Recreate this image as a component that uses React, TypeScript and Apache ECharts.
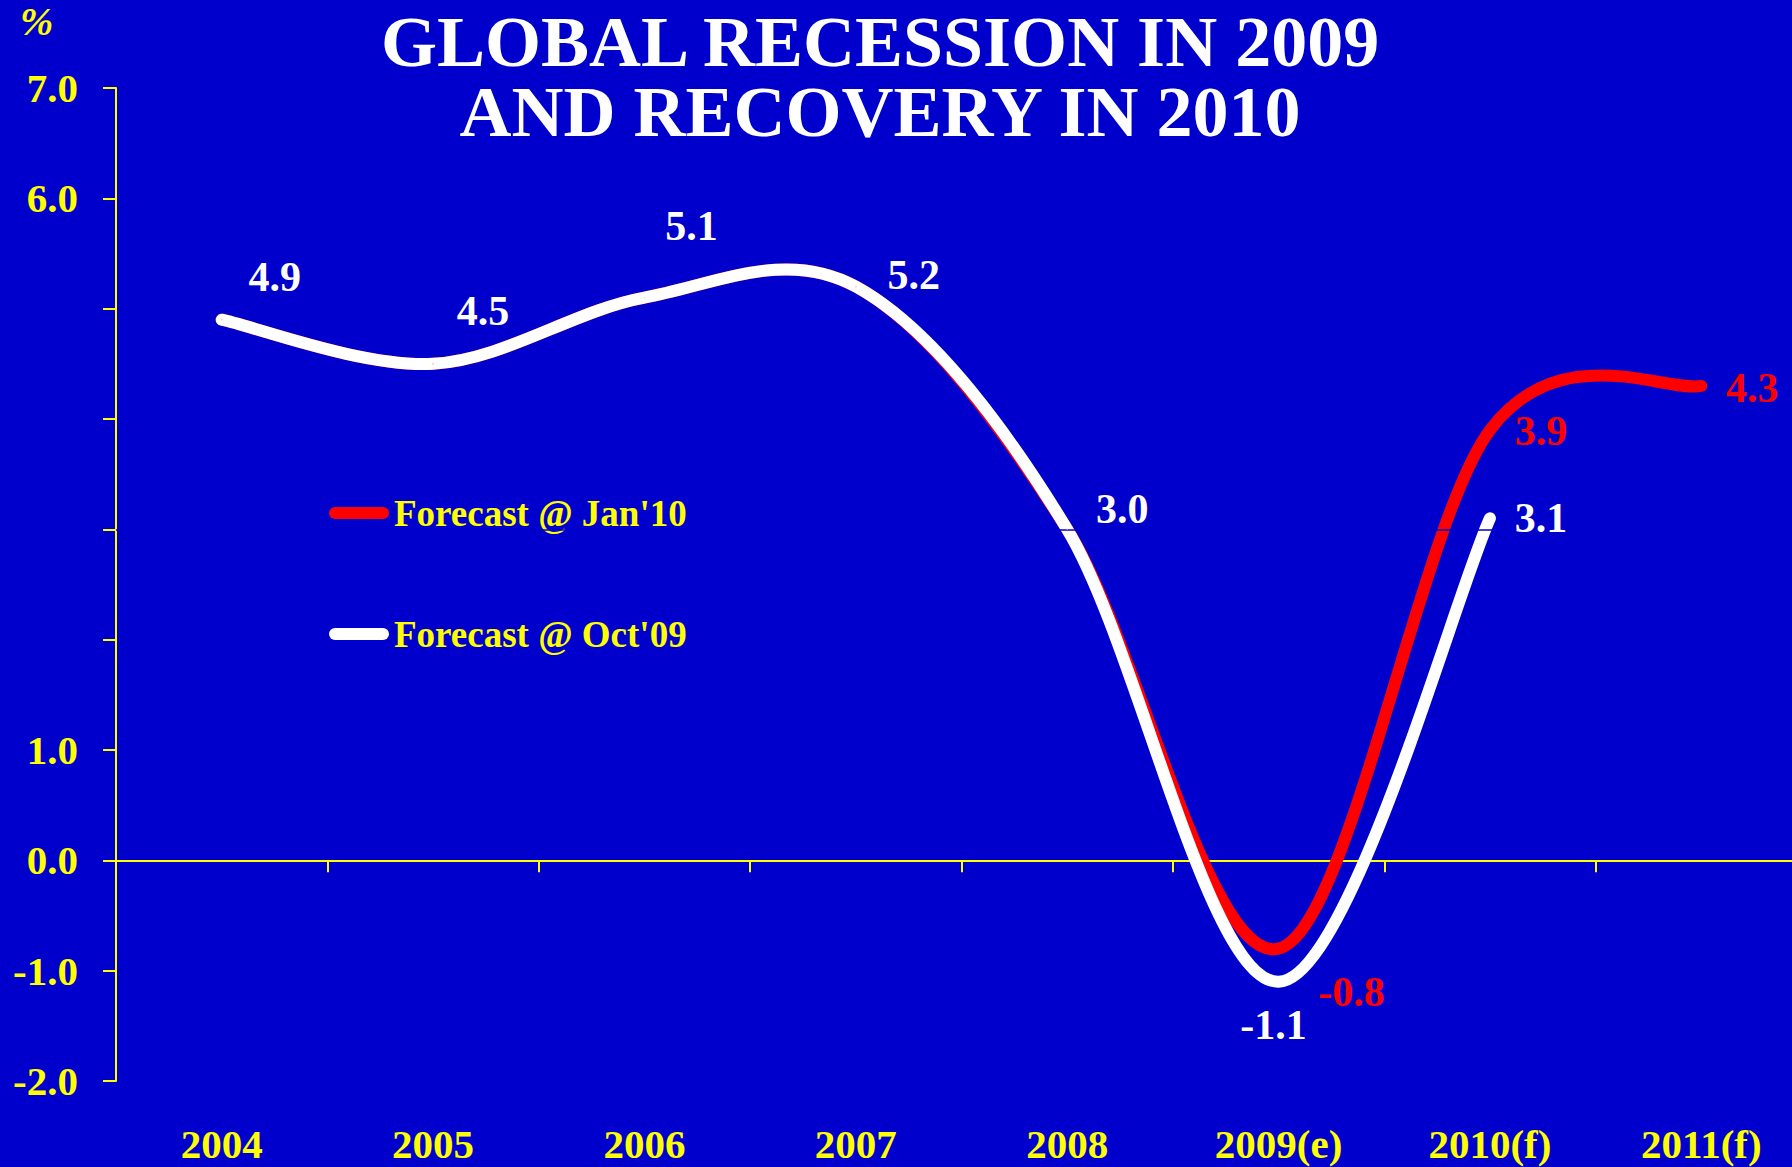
import React, { useEffect, useRef } from 'react';
import * as echarts from 'echarts';

// ---- data ----
const categories = ['2004', '2005', '2006', '2007', '2008', '2009(e)', '2010(f)', '2011(f)'];
const forecastJan10 = [4.9, 4.5, 5.1, 5.2, 3.0, -0.8, 3.9, 4.3];
const forecastOct09 = [4.9, 4.5, 5.1, 5.2, 3.0, -1.1, 3.1];
const labelledYTicks = [-2, -1, 0, 1, 6, 7];
const titleLines = ['GLOBAL RECESSION IN 2009', 'AND RECOVERY IN 2010'];
const seriesNames = ["Forecast @ Jan'10", "Forecast @ Oct'09"];

// ---- label placement (styling, pixel offsets from each point) ----
const oct09LabelOffsets: (number[] | null)[] = [[53, -43], [50, -53], [47, -72], [58, -12], [55, -20], [-5, 43], [51, 0]];
const jan10LabelOffsets: (number[] | null)[] = [null, null, null, null, null, [73, 43], [51, 1], [51, 2]];

const BG = '#0000CC';
const YELLOW = '#FFFF00';
const RED = '#FF0000';
const WHITE = '#FFFFFF';
const FONT = '"Liberation Serif", "Times New Roman", serif';

function buildData(values: number[], offsets: (number[] | null)[], color: string) {
  return values.map((v, i) => {
    const off = offsets[i];
    return {
      value: v,
      label: off
        ? {
            show: true,
            position: 'inside',
            offset: off,
            color,
            fontSize: 42,
            fontWeight: 'bold',
            fontFamily: FONT,
            formatter: (p: any) => Number(p.value).toFixed(1),
          }
        : { show: false },
    };
  });
}

// Smooth (Catmull-Rom style, like spreadsheet smoothed lines) curve through the
// data points, positioned with the chart's own scales via api.coord.
function curveSeries(values: number[], color: string, z: number) {
  return {
    type: 'custom',
    data: values.map((v, i) => [i, v]),
    z,
    silent: true,
    renderItem: (params: any, api: any) => {
      if (params.dataIndex !== 0) return null;
      const pts = values.map((v, i) => api.coord([i, v]));
      const n = pts.length;
      let d = `M${pts[0][0]},${pts[0][1]}`;
      for (let i = 0; i < n - 1; i++) {
        const p0 = pts[Math.max(0, i - 1)];
        const p1 = pts[i];
        const p2 = pts[i + 1];
        const p3 = pts[Math.min(n - 1, i + 2)];
        const c1x = p1[0] + (p2[0] - p0[0]) / 6;
        const c1y = p1[1] + (p2[1] - p0[1]) / 6;
        const c2x = p2[0] - (p3[0] - p1[0]) / 6;
        const c2y = p2[1] - (p3[1] - p1[1]) / 6;
        d += ` C${c1x},${c1y} ${c2x},${c2y} ${p2[0]},${p2[1]}`;
      }
      return {
        type: 'path',
        shape: { pathData: d },
        style: {
          fill: 'none',
          stroke: color,
          lineWidth: 12,
          lineCap: 'round',
          lineJoin: 'round',
        },
      };
    },
  };
}

export default function App() {
  const ref = useRef<HTMLDivElement>(null);
  useEffect(() => {
    document.body.style.margin = '0';
    const chart = echarts.init(ref.current!, null, { renderer: 'svg' });
    const titleGraphics = titleLines.map((line, i) => ({
      type: 'text',
      x: 880,
      y: 7 + i * 70,
      style: {
        text: line,
        fill: WHITE,
        font: `bold 72px ${FONT}`,
        lineHeight: 70,
        textAlign: 'center',
        textVerticalAlign: 'top',
      },
    }));
    const option: any = {
      animation: false,
      backgroundColor: BG,
      grid: { left: 116, right: -15, top: 88, bottom: 86, containLabel: false, outerBoundsMode: 'none' },
      graphic: [
        ...titleGraphics,
        {
          type: 'text',
          x: 20,
          y: 1,
          style: {
            text: '%',
            fill: YELLOW,
            font: `italic bold 40px ${FONT}`,
            textAlign: 'left',
            textVerticalAlign: 'top',
          },
        },
      ],
      legend: {
        data: seriesNames,
        orient: 'vertical',
        left: 324,
        top: 488,
        itemWidth: 60,
        itemHeight: 12,
        itemGap: 81,
        icon: 'path://M6,0L54,0A6,6,0,0,1,54,12L6,12A6,6,0,0,1,6,0Z',
        textStyle: {
          color: YELLOW,
          fontSize: 37,
          fontWeight: 'bold',
          fontFamily: FONT,
          lineHeight: 40,
        },
      },
      xAxis: {
        type: 'category',
        data: categories,
        boundaryGap: true,
        axisLine: { onZero: true, lineStyle: { color: YELLOW, width: 2 } },
        axisTick: { show: true, length: 12, lineStyle: { color: YELLOW, width: 2 } },
        axisLabel: {
          margin: 42,
          color: YELLOW,
          fontSize: 41,
          fontWeight: 'bold',
          fontFamily: FONT,
          interval: 0,
        },
        splitLine: { show: false },
      },
      yAxis: {
        type: 'value',
        min: -2,
        max: 7,
        interval: 1,
        axisLine: { show: true, lineStyle: { color: YELLOW, width: 2 } },
        axisTick: { show: true, length: 13, lineStyle: { color: YELLOW, width: 2 } },
        axisLabel: {
          margin: 38,
          color: YELLOW,
          fontSize: 41,
          fontWeight: 'bold',
          fontFamily: FONT,
          formatter: (v: number) => (labelledYTicks.includes(v) ? v.toFixed(1) : ''),
        },
        splitLine: { show: false },
      },
      series: [
        curveSeries(forecastJan10, RED, 2),
        curveSeries(forecastOct09, WHITE, 3),
        {
          name: seriesNames[0],
          type: 'line',
          symbol: 'circle',
          symbolSize: 1,
          showSymbol: true,
          itemStyle: { color: RED },
          lineStyle: { color: RED, width: 0, opacity: 0 },
          data: buildData(forecastJan10, jan10LabelOffsets, RED),
          z: 4,
        },
        {
          name: seriesNames[1],
          type: 'line',
          symbol: 'circle',
          symbolSize: 1,
          showSymbol: true,
          itemStyle: { color: WHITE },
          lineStyle: { color: WHITE, width: 0, opacity: 0 },
          data: buildData(forecastOct09, oct09LabelOffsets, WHITE),
          z: 5,
          markLine: {
            silent: true,
            symbol: 'none',
            label: { show: false },
            lineStyle: { color: BG, width: 1.5, type: 'solid' },
            data: [{ yAxis: 3 }],
          },
        },
      ],
    };
    chart.setOption(option);
    return () => chart.dispose();
  }, []);
  return <div ref={ref} style={{ width: 1792, height: 1167 }} />;
}
